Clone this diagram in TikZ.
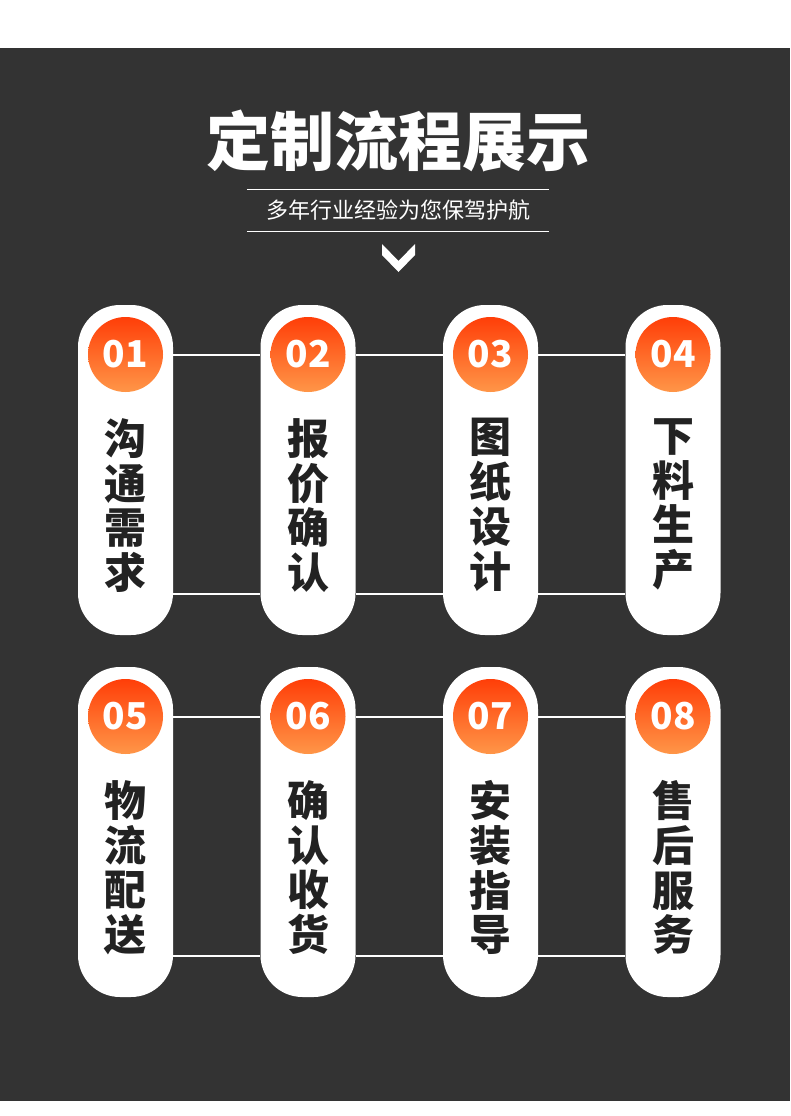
\documentclass[tikz,border=0pt]{standalone}
\usepackage{fontspec}
\usepackage{tikz}
\usetikzlibrary{positioning}
\newfontfamily\cjk{Noto Sans CJK SC}
\definecolor{bgdark}{RGB}{51,51,51}
\definecolor{txtdark}{RGB}{34,34,34}
\definecolor{numtop}{RGB}{255,62,8}
\definecolor{numbot}{RGB}{255,150,72}
\tikzset{
  pill/.style={rectangle, fill=white, minimum width=95pt, minimum height=330pt,
    rounded corners=42pt, inner sep=0pt},
  numdot/.style={circle, minimum size=75pt, inner sep=0pt, top color=numtop,
    bottom color=numbot, text=white, font=\cjk\bfseries\fontsize{37}{37}\selectfont},
  steptxt/.style={align=center, text=txtdark, inner sep=0pt,
    font=\cjk\bfseries\fontsize{42}{44.8}\selectfont},
  link/.style={white, line width=2pt},
  rule/.style={white, line width=1pt}
}

\begin{document}
\begin{tikzpicture}[x=1pt, y=-1pt]
\useasboundingbox (0,0) rectangle (790,1116);
%--- background ---
\fill[white] (0,0) rectangle (790,1116);
\fill[bgdark] (0,48) rectangle (790,1101);

%--- heading ---
\node[text=white, font=\cjk\bfseries\fontsize{64}{64}\selectfont] (title) at (398,141) {定制流程展示};
\node[text=white, font=\cjk\fontsize{22}{22}\selectfont, minimum width=302pt,
  minimum height=40.7pt, inner sep=0pt] (sub) at (398,210.5) {多年行业经验为您保驾护航};
\draw[rule] (sub.north west) -- (sub.north east);
\draw[rule] (sub.south west) -- (sub.south east);
% chevron
\fill[white] (382,244) -- (398.5,261) -- (415,244) -- (415,255) -- (398.5,272) -- (382,255) -- cycle;

%--- steps ---
\foreach \i/\x/\y/\n/\t in {1/125.5/470/01/{沟\\通\\需\\求}, 2/308/470/02/{报\\价\\确\\认},
    3/490.5/470/03/{图\\纸\\设\\计}, 4/673/470/04/{下\\料\\生\\产},
    5/125.5/832/05/{物\\流\\配\\送}, 6/308/832/06/{确\\认\\收\\货},
    7/490.5/832/07/{安\\装\\指\\导}, 8/673/832/08/{售\\后\\服\\务}} {
  \node[pill] (pill\i) at (\x,\y) {};
  \node[numdot, below=12pt of pill\i.north] (num\i) {\n};
  \node[steptxt, below=26pt of num\i] (lbl\i) {\t};
}

% links between steps
\foreach \a/\b in {1/2, 2/3, 3/4, 5/6, 6/7, 7/8} {
  \draw[link] (num\a -| pill\a.east) -- (num\a -| pill\b.west);
  \draw[link] ([yshift=41pt]pill\a.south east) -- ([yshift=41pt]pill\b.south west);
}
\end{tikzpicture}
\end{document}
